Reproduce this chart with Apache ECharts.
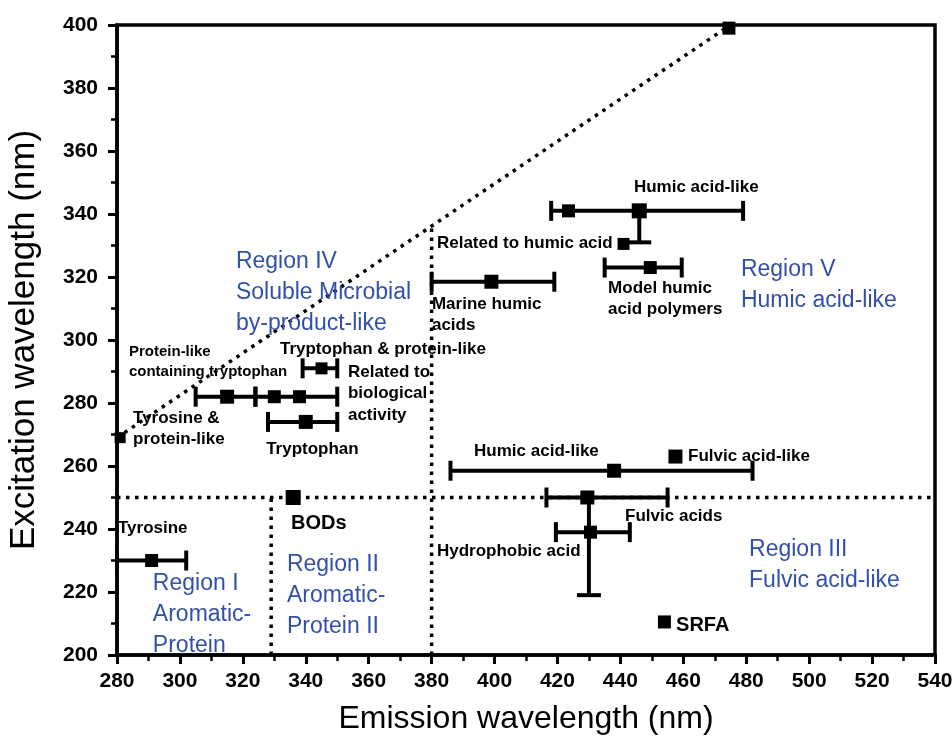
<!DOCTYPE html>
<html>
<head>
<meta charset="utf-8">
<script src="https://cdn.jsdelivr.net/npm/echarts@6/dist/echarts.min.js"></script>
<style>html,body{margin:0;padding:0;background:#fff;}#c{width:952px;height:742px;}</style>
</head>
<body>
<div id="c"></div>
<script>
// ---- data ----
const xTicks = [280, 540, 20];
const yTicks = [200, 400, 20];

// markers: [emission, excitation]
const markerPoints = [
  [291, 230], [281, 269], [315, 282], [330, 282], [338, 282], [345, 291], [340, 274],
  [336, 250], [399, 318.5], [423.5, 341], [446, 341], [441, 330.5], [449.5, 323],
  [438, 258.5], [457.5, 263], [429.5, 250], [430.5, 239], [454, 210.5], [474.5, 399]
];
const markerSizes = [13, 11, 14, 13, 13, 12, 14, 15, 14, 13, 15, 12, 13, 14, 14, 14, 13, 13, 13];

// horizontal error bars: [excitation, emission low, emission high]
const hErrors = [
  [230, 280, 302], [282, 305, 324], [282, 324, 350], [291, 339, 350], [274, 328, 350],
  [318.5, 380, 419], [341, 418, 479], [323, 435, 459.5], [258.5, 386, 482],
  [250, 416.5, 455], [239, 419.5, 443]
];
// vertical error bars: [emission, excitation high, excitation low]
const vErrors = [[446, 341, 331], [430, 250, 219]];

// dotted boundary lines
const diagonalLine = [[280, 269], [475, 400]];
const hLine250 = [[280, 250], [540, 250]];
const vLine329 = [[329, 200], [329, 250]];
const vLine380 = [[380, 200], [380, 336]];

// black annotation labels (anchor = left edge / first line centre)
const blackTexts = ['Humic acid-like', 'Related to humic acid', 'Marine humic\nacids', 'Model humic\nacid polymers',
  'Tryptophan & protein-like', 'Related to\nbiological\nactivity', 'Tyrosine &\nprotein-like', 'Tryptophan',
  'Humic acid-like', 'Fulvic acid-like', 'Fulvic acids', 'Hydrophobic acid', 'Tyrosine'];
const blackAnchors = [[444.3, 348.6], [381.7, 330.8], [380.1, 311.4], [436.1, 316.5],
  [331.8, 297.1], [353.4, 289.8], [285.1, 275.2], [327.4, 265.4],
  [393.5, 264.8], [461.5, 263.2], [441.5, 244.1], [381.7, 233.0], [280.3, 240.3]];
const smallText = 'Protein-like\ncontaining tryptophan';
const smallAnchor = [283.8, 296.2];
const bigTexts = ['BODs', 'SRFA'];
const bigAnchors = [[335.3, 241.6], [457.7, 209.5]];

// blue region labels
const regionTexts = ['Region IV\nSoluble Microbial\nby-product-like', 'Region V\nHumic acid-like',
  'Region I\nAromatic-\nProtein', 'Region II\nAromatic-\nProtein II', 'Region III\nFulvic acid-like'];
const regionAnchors = [[317.8, 324.8], [478.3, 322.2], [291.4, 222.5], [334.0, 228.6], [480.9, 233.3]];

// ---- chart ----
const FONT = 'Arial, "Liberation Sans", sans-serif';
function labelItems(texts, anchors, size, weight, color, lh) {
  return texts.map((t, i) => ({
    value: anchors[i],
    label: {
      show: true, formatter: t, position: [0, 0], align: 'left', verticalAlign: 'top',
      offset: [0, -lh / 2], fontSize: size, fontWeight: weight, color: color,
      fontFamily: FONT, lineHeight: lh, opacity: 1
    }
  }));
}
const labelData = []
  .concat(labelItems(regionTexts, regionAnchors, 23, 'normal', '#3350a8', 31))
  .concat(labelItems(blackTexts, blackAnchors, 17, 'bold', '#000', 21.5))
  .concat(labelItems([smallText], [smallAnchor], 15, 'bold', '#000', 20))
  .concat(labelItems(bigTexts, bigAnchors, 20, 'bold', '#000', 24));

const LW = 4;
function hBar(params, api) {
  const y = api.value(0), p1 = api.coord([api.value(1), y]), p2 = api.coord([api.value(2), y]);
  const c = 10, st = { stroke: '#000', lineWidth: LW };
  return { type: 'group', children: [
    { type: 'line', shape: { x1: p1[0], y1: p1[1], x2: p2[0], y2: p2[1] }, style: st },
    { type: 'line', shape: { x1: p1[0], y1: p1[1] - c, x2: p1[0], y2: p1[1] + c }, style: st },
    { type: 'line', shape: { x1: p2[0], y1: p2[1] - c, x2: p2[0], y2: p2[1] + c }, style: st }
  ]};
}
function vBar(params, api) {
  const x = api.value(0), p1 = api.coord([x, api.value(1)]), p2 = api.coord([x, api.value(2)]);
  const c = 12, st = { stroke: '#000', lineWidth: LW };
  return { type: 'group', children: [
    { type: 'line', shape: { x1: p1[0], y1: p1[1], x2: p2[0], y2: p2[1] }, style: st },
    { type: 'line', shape: { x1: p2[0] - c, y1: p2[1], x2: p2[0] + c, y2: p2[1] }, style: st }
  ]};
}
function dotted(data) {
  return { type: 'line', data: data, symbol: 'none', silent: true, z: 2,
    lineStyle: { color: '#000', width: 3.5, type: [3.5, 5.5], cap: 'butt', opacity: 1 }, animation: false };
}

const chart = echarts.init(document.getElementById('c'), null, { renderer: 'canvas' });
chart.setOption({
  animation: false,
  backgroundColor: '#fff',
  grid: { left: 117, right: 17, top: 25, bottom: 87, show: true, borderColor: '#000', borderWidth: 3.5,
    containLabel: false, outerBoundsMode: 'none' },
  xAxis: {
    type: 'value', min: xTicks[0], max: xTicks[1], interval: xTicks[2],
    name: 'Emission wavelength (nm)', nameLocation: 'middle', nameGap: 48,
    nameTextStyle: { fontSize: 32, color: '#000', fontFamily: FONT },
    axisLine: { show: true, lineStyle: { color: '#000', width: 3.5 } },
    axisTick: { show: true, inside: false, length: 9, lineStyle: { color: '#000', width: 3 } },
    minorTick: { show: true, splitNumber: 2, length: 6, lineStyle: { color: '#000', width: 2.5 } },
    axisLabel: { fontSize: 21, fontWeight: 'bold', color: '#000', fontFamily: FONT, margin: 16 },
    splitLine: { show: false }
  },
  yAxis: {
    type: 'value', min: yTicks[0], max: yTicks[1], interval: yTicks[2],
    name: 'Excitation wavelength (nm)', nameLocation: 'middle', nameGap: 75,
    nameTextStyle: { fontSize: 35, color: '#000', fontFamily: FONT },
    axisLine: { show: true, lineStyle: { color: '#000', width: 3.5 } },
    axisTick: { show: true, inside: false, length: 9, lineStyle: { color: '#000', width: 3 } },
    minorTick: { show: true, splitNumber: 2, length: 6, lineStyle: { color: '#000', width: 2.5 } },
    axisLabel: { fontSize: 21, fontWeight: 'bold', color: '#000', fontFamily: FONT, margin: 19 },
    splitLine: { show: false }
  },
  series: [
    dotted(diagonalLine), dotted(hLine250), dotted(vLine329), dotted(vLine380),
    { type: 'scatter', data: labelData, symbolSize: 0, itemStyle: { color: 'rgba(0,0,0,0)', opacity: 1 }, silent: true, z: 3, clip: false },
    { type: 'custom', renderItem: hBar, data: hErrors, encode: { x: [1, 2], y: 0 }, silent: true, z: 4, clip: false },
    { type: 'custom', renderItem: vBar, data: vErrors, encode: { x: 0, y: [1, 2] }, silent: true, z: 4, clip: false },
    { type: 'scatter', symbol: 'rect', data: markerPoints.map((p, i) => ({ value: p, symbolSize: markerSizes[i] })),
      itemStyle: { color: '#000', opacity: 1 }, silent: true, z: 5, clip: false }
  ]
});
</script>
</body>
</html>
